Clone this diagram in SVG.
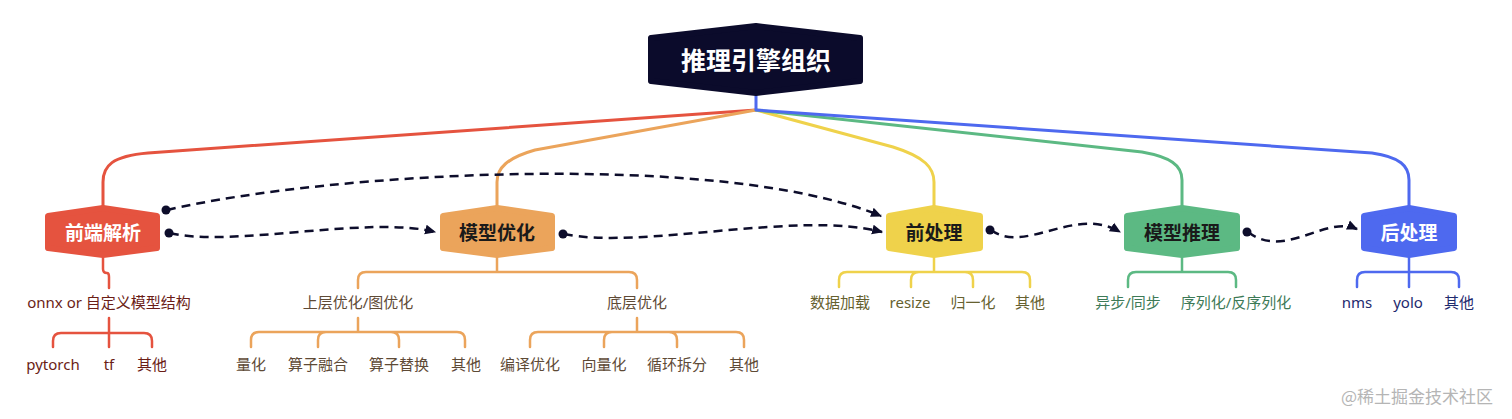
<svg xmlns="http://www.w3.org/2000/svg" width="1512" height="419" viewBox="0 0 1512 419">
<defs>
<style>
.t{font-family:"Noto Sans","Noto Sans CJK SC",sans-serif;font-size:15px;text-anchor:middle;dominant-baseline:central}
.n{font-family:"Noto Sans CJK SC","Noto Sans",sans-serif;font-size:19px;font-weight:bold;text-anchor:middle;dominant-baseline:central}
.b{fill:none;stroke-width:2.5;stroke-linecap:round;stroke-linejoin:round}
.m{fill:none;stroke-width:3;stroke-linecap:round;stroke-linejoin:round}
.d{fill:none;stroke:#0d0d2b;stroke-width:2.5;stroke-dasharray:9 6}
.shape{stroke-width:6;stroke-linejoin:round}
</style>
<marker id="arr" viewBox="0 0 10 10" refX="9" refY="5" markerWidth="11" markerHeight="11" markerUnits="userSpaceOnUse" orient="auto">
<path d="M0,0.5 L10,5 L0,9.5 Z" fill="#0d0d2b"/>
</marker>
</defs>
<rect width="1512" height="419" fill="#ffffff"/>

<g id="connectors">
<path class="m" stroke="#e5533f" d="M756,110 L148,153 C112,156 103,166 103,182 V207"/>
<path class="m" stroke="#eba45b" d="M756,110 L535,150 C507,158 497,168 497,182 V207"/>
<path class="m" stroke="#efd24b" d="M756,110 L893,147 C925,157 934,168 934,182 V207"/>
<path class="m" stroke="#5cb983" d="M756,110 L1142,152 C1170,157 1182,165 1182,180 V207"/>
<path class="m" stroke="#4e69ef" d="M756,96 V110 L1372,153 C1400,157 1409,166 1409,180 V207"/>

<path class="b" stroke="#e5533f" d="M103,258 V269 Q103,273 107,273 Q109,273 109,277 V288"/>
<path class="b" stroke="#e5533f" d="M109,318 V347 M109,333 H61 Q53,333 53,341 V347 M109,333 H144 Q152,333 152,341 V347"/>

<path class="b" stroke="#eba45b" d="M497,258 V272 H366 Q358,272 358,280 V288 M497,272 H629 Q637,272 637,280 V288"/>
<path class="b" stroke="#eba45b" d="M358,318 V332 H259 Q251,332 251,340 V347 M358,332 H326 Q318,332 318,340 V347 M358,332 H391 Q399,332 399,340 V347 M358,332 H457 Q465,332 465,340 V347"/>
<path class="b" stroke="#eba45b" d="M637,318 V332 H538 Q530,332 530,340 V347 M637,332 H612 Q604,332 604,340 V347 M637,332 H669 Q677,332 677,340 V347 M637,332 H736 Q744,332 744,340 V347"/>

<path class="b" stroke="#efd24b" d="M934,258 V272 H847 Q839,272 839,280 V287 M934,272 H919 Q911,272 911,280 V287 M934,272 H965 Q973,272 973,280 V287 M934,272 H1022 Q1030,272 1030,280 V287"/>

<path class="b" stroke="#5cb983" d="M1182,258 V272 H1136 Q1128,272 1128,280 V287 M1182,272 H1228 Q1236,272 1236,280 V287"/>

<path class="b" stroke="#4e69ef" d="M1409,258 V287 M1409,272 H1365 Q1357,272 1357,280 V287 M1409,272 H1451 Q1459,272 1459,280 V287"/>

<path class="d" d="M167,210 C330,172 720,150 881,216" marker-end="url(#arr)"/>
<circle cx="166" cy="210" r="4.5" fill="#0d0d2b"/>
<path class="d" d="M170,233 C230,248 370,215 435,232" marker-end="url(#arr)"/>
<circle cx="169" cy="233" r="4.5" fill="#0d0d2b"/>
<path class="d" d="M564,234 C640,250 800,210 882,232" marker-end="url(#arr)"/>
<circle cx="563" cy="234" r="4.5" fill="#0d0d2b"/>
<path class="d" d="M991,230 C1025,255 1075,205 1120,232" marker-end="url(#arr)"/>
<circle cx="990" cy="230" r="4.5" fill="#0d0d2b"/>
<path class="d" d="M1248,232 C1285,260 1325,215 1357,229" marker-end="url(#arr)"/>
<circle cx="1247" cy="232" r="4.5" fill="#0d0d2b"/>
</g>

<g id="root">
<polygon class="shape" fill="#0b0b2b" stroke="#0b0b2b" points="651,38 756,26 860,38 860,81 756,93 651,81"/>
<text class="n" x="756" y="59" fill="#ffffff" style="font-size:25px">推理引擎组织</text>
</g>

<g id="node-frontend">
<polygon class="shape" fill="#e5533f" stroke="#e5533f" points="48,216 103,208 157,216 157,248 103,255 48,248"/>
<text class="n" x="103" y="231" fill="#ffffff">前端解析</text>
</g>
<g id="node-modelopt">
<polygon class="shape" fill="#eba45b" stroke="#eba45b" points="443,216 497,208 552,216 552,248 497,255 443,248"/>
<text class="n" x="497" y="231" fill="#1a1a1a">模型优化</text>
</g>
<g id="node-preprocess">
<polygon class="shape" fill="#efd24b" stroke="#efd24b" points="889,216 934,208 980,216 980,248 934,255 889,248"/>
<text class="n" x="934" y="231" fill="#1a1a1a">前处理</text>
</g>
<g id="node-infer">
<polygon class="shape" fill="#5cb983" stroke="#5cb983" points="1127,216 1182,208 1237,216 1237,248 1182,255 1127,248"/>
<text class="n" x="1182" y="231" fill="#1a1a1a">模型推理</text>
</g>
<g id="node-postprocess">
<polygon class="shape" fill="#4e69ef" stroke="#4e69ef" points="1364,216 1409,208 1454,216 1454,248 1409,255 1364,248"/>
<text class="n" x="1409" y="231" fill="#ffffff">后处理</text>
</g>

<g id="labels-frontend" fill="#6b1d16">
<text class="t" x="109" y="302">onnx or 自定义模型结构</text>
<text class="t" x="53" y="364">pytorch</text>
<text class="t" x="109" y="364">tf</text>
<text class="t" x="152" y="364">其他</text>
</g>
<g id="labels-modelopt" fill="#5e4a36">
<text class="t" x="358" y="302">上层优化/图优化</text>
<text class="t" x="637" y="302">底层优化</text>
<text class="t" x="251" y="364">量化</text>
<text class="t" x="318" y="364">算子融合</text>
<text class="t" x="399" y="364">算子替换</text>
<text class="t" x="466" y="364">其他</text>
<text class="t" x="530" y="364">编译优化</text>
<text class="t" x="604" y="364">向量化</text>
<text class="t" x="677" y="364">循环拆分</text>
<text class="t" x="744" y="364">其他</text>
</g>
<g id="labels-preprocess" fill="#66612f">
<text class="t" x="840" y="302">数据加载</text>
<text class="t" x="910" y="302">resize</text>
<text class="t" x="973" y="302">归一化</text>
<text class="t" x="1030" y="302">其他</text>
</g>
<g id="labels-infer" fill="#3d7a57">
<text class="t" x="1128" y="302">异步/同步</text>
<text class="t" x="1236" y="302">序列化/反序列化</text>
</g>
<g id="labels-postprocess" fill="#1e2a6e">
<text class="t" x="1357" y="302">nms</text>
<text class="t" x="1408" y="302">yolo</text>
<text class="t" x="1459" y="302">其他</text>
</g>

<text x="1417" y="395" style="font-family:'Noto Sans CJK SC',sans-serif;font-size:17px;text-anchor:middle;dominant-baseline:central" fill="#b5b5b5">@稀土掘金技术社区</text>
</svg>
